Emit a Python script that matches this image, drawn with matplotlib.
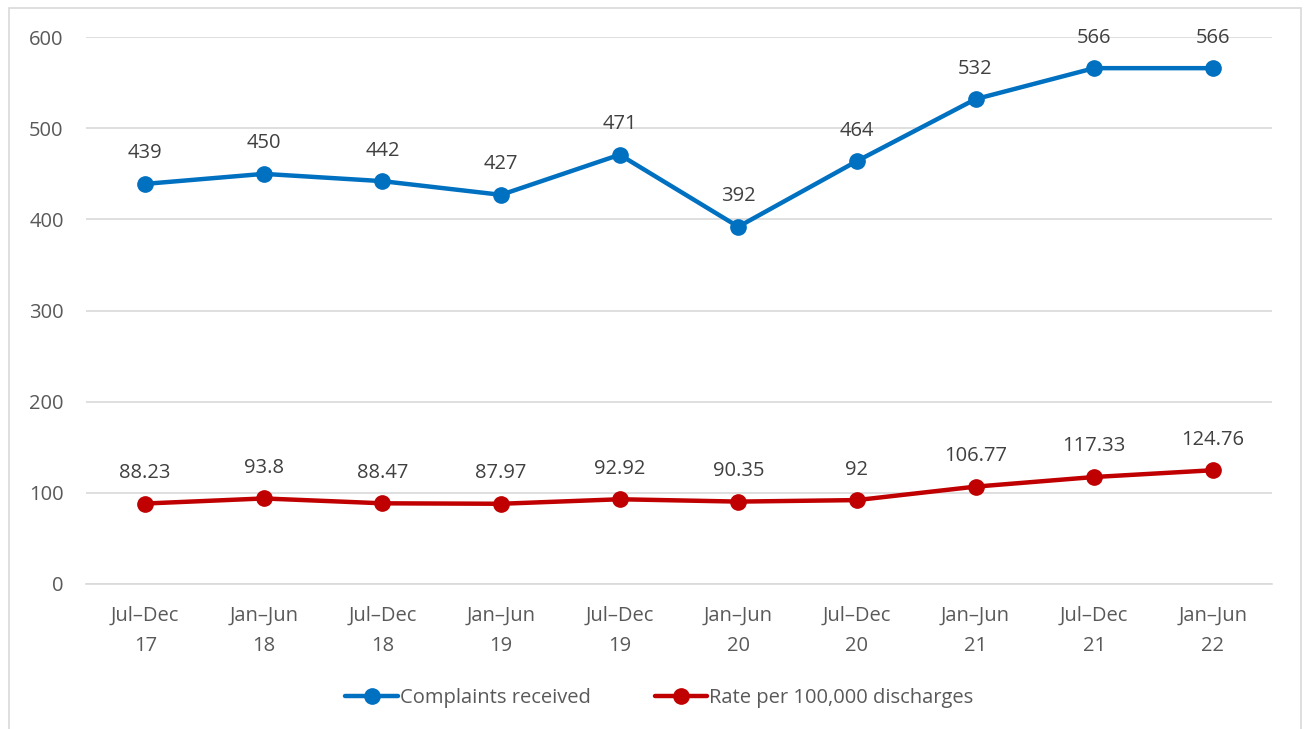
import matplotlib.pyplot as plt
from matplotlib.patches import Rectangle

periods = ["Jul\u2013Dec\n17", "Jan\u2013Jun\n18", "Jul\u2013Dec\n18", "Jan\u2013Jun\n19", "Jul\u2013Dec\n19",
           "Jan\u2013Jun\n20", "Jul\u2013Dec\n20", "Jan\u2013Jun\n21", "Jul\u2013Dec\n21", "Jan\u2013Jun\n22"]
complaints = [439, 450, 442, 427, 471, 392, 464, 532, 566, 566]
rate = [88.23, 93.8, 88.47, 87.97, 92.92, 90.35, 92, 106.77, 117.33, 124.76]

plt.rcParams['font.family'] = ['Open Sans', 'DejaVu Sans']
txt = "#595959"

fig = plt.figure(figsize=(13.06, 7.29), dpi=100)
ax = fig.add_axes([0.0658, 0.199, 0.9082, 0.75])

# outer chart border
fig.patches.append(Rectangle((9 / 1306, -0.01), 1292 / 1306, 1 - 8 / 729 + 0.01,
                             transform=fig.transFigure, fill=False,
                             edgecolor="#d9d9d9", linewidth=1.2))

x = list(range(len(periods)))
ax.plot(x, complaints, color="#0070C0", linewidth=3.2, marker="o", markersize=11,
        label="Complaints received", solid_capstyle="round")
ax.plot(x, rate, color="#C00000", linewidth=3.2, marker="o", markersize=11,
        label="Rate per 100,000 discharges", solid_capstyle="round")

for xi, v in zip(x, complaints):
    ax.annotate(f"{v:g}", (xi, v), xytext=(0, 22), textcoords="offset points",
                ha="center", va="center", fontsize=14.5, color="#404040")
for xi, v in zip(x, rate):
    ax.annotate(f"{v:g}", (xi, v), xytext=(0, 22), textcoords="offset points",
                ha="center", va="center", fontsize=14.5, color="#404040")

ax.set_xlim(-0.5, 9.5)
ax.set_ylim(0, 600)
ax.set_yticks(range(0, 601, 100))
ax.set_xticks(x)
ax.set_xticklabels(periods, linespacing=1.65)
ax.yaxis.grid(True, color="#d9d9d9", linewidth=1.2)
ax.set_axisbelow(True)
for s in ["top", "right", "left"]:
    ax.spines[s].set_visible(False)
ax.spines["bottom"].set_color("#d9d9d9")
ax.spines["bottom"].set_linewidth(1.2)
ax.tick_params(length=0, labelsize=14.5, colors=txt)
ax.tick_params(axis="x", pad=16)
ax.tick_params(axis="y", pad=16)

leg = fig.legend(loc="center", bbox_to_anchor=(0.505, 0.043), ncol=2, frameon=False,
                 fontsize=14.5, handlelength=2.6, handletextpad=0.1, columnspacing=3.2)
for t in leg.get_texts():
    t.set_color(txt)

fig.savefig("out.png", dpi=100)
